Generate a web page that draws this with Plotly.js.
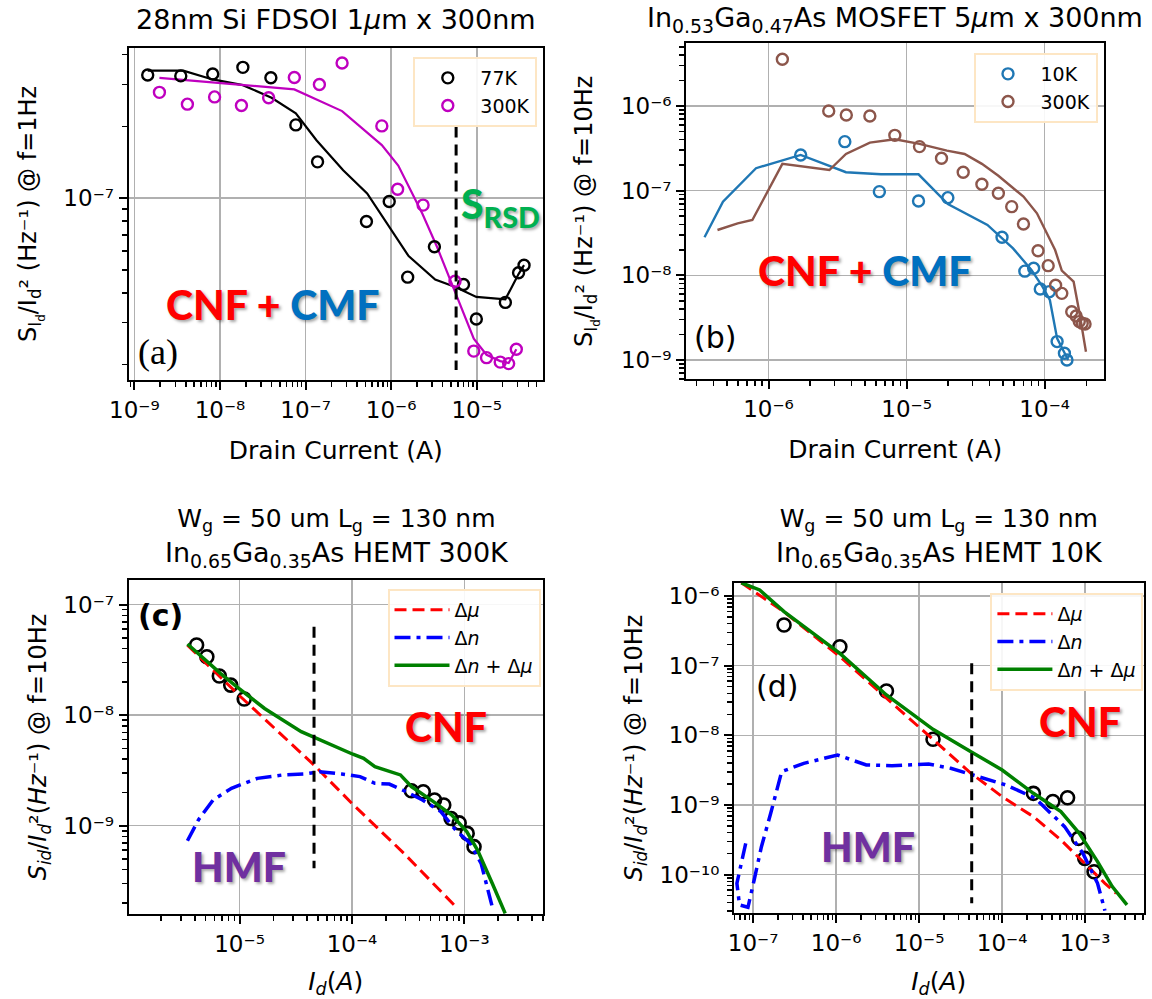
<!DOCTYPE html>
<html><head><meta charset="utf-8">
<script src="https://cdn.plot.ly/plotly-3.0.1.min.js"></script>
<style>html,body{margin:0;padding:0;background:#fff}</style>
</head><body><div id="chart" style="width:1152px;height:999px"></div>
<script>
// ---------------- Panel (a): 28nm Si FDSOI ----------------
const a77PtsI = [1.43e-9, 3.48e-9, 8.22e-9, 1.85e-8, 3.93e-8, 7.69e-8, 1.38e-7, 5.14e-7, 9.49e-7, 1.56e-6, 3.2e-6, 7.0e-6, 9.89e-6, 2.16e-5, 3.08e-5, 3.57e-5];
const a77PtsS = [3.29e-7, 3.26e-7, 3.32e-7, 3.54e-7, 3.2e-7, 2.03e-7, 1.42e-7, 7.98e-8, 9.68e-8, 4.66e-8, 6.25e-8, 4.34e-8, 3.11e-8, 3.65e-8, 4.86e-8, 5.23e-8];
const a77FitI = [1.43e-9, 3.72e-9, 8.22e-9, 1.85e-8, 4.0e-8, 7.69e-8, 1.34e-7, 2.75e-7, 5.24e-7, 9.49e-7, 1.6e-6, 3.27e-6, 5.62e-6, 9.89e-6, 2.16e-5, 3.08e-5, 3.57e-5];
const a77FitS = [3.43e-7, 3.43e-7, 3.15e-7, 2.98e-7, 2.64e-7, 2.27e-7, 1.75e-7, 1.31e-7, 1.046e-7, 7.58e-8, 5.71e-8, 4.55e-8, 4.24e-8, 3.85e-8, 3.76e-8, 4.8e-8, 5.23e-8];
const a300PtsI = [1.96e-9, 4.16e-9, 8.64e-9, 1.78e-8, 3.7e-8, 7.39e-8, 1.45e-7, 2.67e-7, 7.78e-7, 1.19e-6, 2.36e-6, 5.57e-6, 9.23e-6, 1.3e-5, 1.88e-5, 2.36e-5, 2.9e-5];
const a300PtsS = [2.78e-7, 2.48e-7, 2.66e-7, 2.45e-7, 2.64e-7, 3.21e-7, 3.0e-7, 3.69e-7, 2.01e-7, 1.09e-7, 9.35e-8, 4.48e-8, 2.28e-8, 2.14e-8, 2.05e-8, 2.02e-8, 2.32e-8];
const a300FitI = [1.96e-9, 1.0e-8, 7.39e-8, 2.67e-7, 7.78e-7, 1.21e-6, 2.31e-6, 3.43e-6, 5.62e-6, 9.23e-6, 1.3e-5, 1.88e-5, 2.36e-5, 2.9e-5];
const a300FitS = [3.2e-7, 3.05e-7, 2.86e-7, 2.32e-7, 1.67e-7, 1.37e-7, 8.62e-8, 6.25e-8, 4.04e-8, 2.57e-8, 2.2e-8, 2.07e-8, 2.03e-8, 2.32e-8];
const aVlineI = [5.74e-6, 5.74e-6];
const aVlineS = [2.0e-7, 1.9e-8];
const aLegend = ['77K', '300K'];

// ---------------- Panel (b): InGaAs MOSFET ----------------
const b10PtsI = [1.71e-6, 3.57e-6, 6.35e-6, 1.22e-5, 1.99e-5, 4.91e-5, 7.18e-5, 8.32e-5, 9.29e-5, 1.08e-4, 1.23e-4, 1.39e-4, 1.45e-4];
const b10PtsS = [2.64e-7, 3.79e-7, 9.73e-8, 7.55e-8, 8.26e-8, 2.81e-8, 1.12e-8, 1.21e-8, 6.9e-9, 6.41e-9, 1.65e-9, 1.2e-9, 1.0e-9];
const b10FitI = [3.44e-7, 4.68e-7, 8.12e-7, 1.71e-6, 3.64e-6, 6.52e-6, 1.22e-5, 1.99e-5, 3.85e-5, 5.9e-5, 8.02e-5, 9.64e-5, 1.09e-4, 1.23e-4, 1.48e-4];
const b10FitS = [2.81e-8, 7.41e-8, 1.84e-7, 2.64e-7, 1.65e-7, 1.56e-7, 1.56e-7, 6.96e-8, 3.93e-8, 2.08e-8, 1.16e-8, 7.35e-9, 5.12e-9, 1.8e-9, 1.0e-9];
const b300PtsI = [1.26e-6, 2.73e-6, 3.66e-6, 5.42e-6, 8.22e-6, 1.24e-5, 1.79e-5, 2.57e-5, 3.51e-5, 4.62e-5, 5.77e-5, 7.02e-5, 8.95e-5, 1.06e-4, 1.2e-4, 1.33e-4, 1.57e-4, 1.69e-4, 1.78e-4, 1.87e-4, 1.96e-4];
const b300PtsS = [3.56e-6, 8.73e-7, 7.83e-7, 7.62e-7, 4.5e-7, 3.31e-7, 2.41e-7, 1.65e-7, 1.19e-7, 9.3e-8, 6.47e-8, 4.04e-8, 1.95e-8, 1.3e-8, 7.62e-9, 6.12e-9, 3.72e-9, 3.31e-9, 2.84e-9, 2.71e-9, 2.66e-9];
const b300FitI = [4.27e-7, 5.98e-7, 7.64e-7, 1.26e-6, 2.76e-6, 3.64e-6, 5.42e-6, 8.22e-6, 1.24e-5, 1.96e-5, 2.63e-5, 3.51e-5, 4.62e-5, 7.02e-5, 8.79e-5, 1.19e-4, 1.33e-4, 1.62e-4, 1.78e-4, 1.99e-4];
const b300FitS = [3.43e-8, 4.11e-8, 4.5e-8, 2.07e-7, 1.75e-7, 2.71e-7, 3.69e-7, 4.04e-7, 3.56e-7, 2.97e-7, 2.71e-7, 2.07e-7, 1.5e-7, 8.5e-8, 5.4e-8, 1.99e-8, 1.14e-8, 8.41e-9, 3.72e-9, 1.25e-9];
const bLegend = ['10K', '300K'];

// ---------------- Panel (c): HEMT 300K ----------------
const cPtsI = [4.15e-6, 5.12e-6, 6.61e-6, 8.35e-6, 1.1e-5, 3.38e-4, 4.31e-4, 5.43e-4, 6.56e-4, 7.62e-4, 9.0e-4, 1.06e-3, 1.22e-3];
const cPtsS = [4.31e-8, 3.38e-8, 2.26e-8, 1.87e-8, 1.4e-8, 2.07e-9, 2.03e-9, 1.71e-9, 1.54e-9, 1.16e-9, 1.06e-9, 8.52e-10, 6.46e-10];
const cMuI = [3.44e-6, 1.0e-5, 4.6e-5, 1.0e-4, 2.91e-4, 8.67e-4];
const cMuS = [4.3e-8, 1.5e-8, 3.54e-9, 1.59e-9, 5.6e-10, 1.79e-10];
const cNI = [3.44e-6, 4.31e-6, 5.82e-6, 8.48e-6, 1.44e-5, 2.43e-5, 3.82e-5, 5.16e-5, 8.1e-5, 1.18e-4, 1.6e-4, 2.15e-4, 2.91e-4, 4.24e-4, 6.18e-4, 8.36e-4, 1.13e-3, 1.41e-3, 1.77e-3];
const cNS = [7.31e-10, 1.13e-9, 1.71e-9, 2.18e-9, 2.68e-9, 2.88e-9, 2.94e-9, 3.08e-9, 2.94e-9, 2.78e-9, 2.42e-9, 2.38e-9, 2.07e-9, 1.71e-9, 1.34e-9, 9.14e-10, 6.92e-10, 4.56e-10, 1.85e-10];
const cSumI = [3.44e-6, 5.0e-6, 6.76e-6, 9.85e-6, 1.67e-5, 3.54e-5, 4.6e-5, 6.45e-5, 1.02e-4, 1.27e-4, 1.6e-4, 2.7e-4, 3.38e-4, 5.31e-4, 7.74e-4, 1.05e-3, 1.31e-3, 1.77e-3, 2.31e-3];
const cSumS = [4.41e-8, 3.15e-8, 2.39e-8, 1.75e-8, 1.15e-8, 7.1e-9, 6.3e-9, 5.37e-9, 4.43e-9, 4.07e-9, 3.42e-9, 2.88e-9, 2.26e-9, 1.65e-9, 1.25e-9, 8.83e-10, 6.02e-10, 3.01e-10, 1.61e-10];
const cVlineI = [4.6e-5, 4.6e-5];
const cVlineS = [6.32e-8, 4.11e-10];

// ---------------- Panel (d): HEMT 10K ----------------
const dPtsI = [2.36e-7, 1.11e-6, 4.04e-6, 1.47e-5, 2.38e-4, 4.08e-4, 6.14e-4, 8.32e-4, 9.9e-4, 1.28e-3];
const dPtsS = [3.84e-7, 1.87e-7, 4.33e-8, 8.77e-9, 1.47e-9, 1.12e-9, 1.27e-9, 3.32e-10, 1.71e-10, 1.1e-10];
const dMuI = [7.21e-8, 2.36e-7, 1.11e-6, 4.04e-6, 1.47e-5, 4.21e-5, 1.0e-4, 2.38e-4, 5.1e-4, 8.5e-4, 1.73e-3, 2.36e-3];
const dMuS = [1.55e-6, 5.9e-7, 1.35e-7, 3.4e-8, 8.77e-9, 2.85e-9, 1.32e-9, 6.8e-10, 3.15e-10, 1.71e-10, 7.51e-11, 5.4e-11];
const dNI = [8.15e-8, 6.38e-8, 6.86e-8, 8.67e-8, 1.03e-7, 1.26e-7, 1.63e-7, 2.21e-7, 4.08e-7, 1.04e-6, 2.31e-6, 4.71e-6, 1.3e-5, 2.4e-5, 4.43e-5, 1.11e-4, 2.5e-4, 5.65e-4, 9.4e-4, 1.41e-3, 1.73e-3];
const dNS = [2.82e-10, 7.51e-11, 3.67e-11, 3.4e-11, 8.38e-11, 2.52e-10, 7.59e-10, 3.01e-9, 3.96e-9, 5.22e-9, 3.75e-9, 3.67e-9, 3.88e-9, 3.36e-9, 2.7e-9, 1.94e-9, 1.25e-9, 4.89e-10, 2.02e-10, 7.51e-11, 3.04e-11];
const dSumI = [7.21e-8, 1.2e-7, 2.36e-7, 5.0e-7, 1.11e-6, 4.04e-6, 1.47e-5, 4.21e-5, 1.0e-4, 2.38e-4, 5.1e-4, 8.5e-4, 1.41e-3, 2.12e-3, 3.19e-3];
const dSumS = [1.55e-6, 1.22e-6, 5.96e-7, 3.08e-7, 1.5e-7, 3.79e-8, 1.22e-8, 5.83e-9, 3.18e-9, 1.47e-9, 8.02e-10, 3.92e-10, 1.54e-10, 6.73e-11, 3.67e-11];
const dVlineI = [4.3e-5, 4.3e-5];
const dVlineS = [1.08e-7, 3.88e-11];
const hemtLegend = ['Δ<i>μ</i>', 'Δ<i>n</i>', 'Δ<i>n</i> + Δ<i>μ</i>'];

// ---------------- Tick labels ----------------
const aXTicks = [1e-9, 1e-8, 1e-7, 1e-6, 1e-5];
const aXText = ['10⁻⁹', '10⁻⁸', '10⁻⁷', '10⁻⁶', '10⁻⁵'];
const aYTicks = [1e-7];
const aYText = ['10⁻⁷'];
const bXTicks = [1e-6, 1e-5, 1e-4];
const bXText = ['10⁻⁶', '10⁻⁵', '10⁻⁴'];
const bYTicks = [1e-9, 1e-8, 1e-7, 1e-6];
const bYText = ['10⁻⁹', '10⁻⁸', '10⁻⁷', '10⁻⁶'];
const cXTicks = [1e-5, 1e-4, 1e-3];
const cXText = ['10⁻⁵', '10⁻⁴', '10⁻³'];
const cYTicks = [1e-9, 1e-8, 1e-7];
const cYText = ['10⁻⁹', '10⁻⁸', '10⁻⁷'];
const dXTicks = [1e-7, 1e-6, 1e-5, 1e-4, 1e-3];
const dXText = ['10⁻⁷', '10⁻⁶', '10⁻⁵', '10⁻⁴', '10⁻³'];
const dYTicks = [1e-10, 1e-9, 1e-8, 1e-7, 1e-6];
const dYText = ['10⁻¹⁰', '10⁻⁹', '10⁻⁸', '10⁻⁷', '10⁻⁶'];

// ---------------- helpers (styling / layout only) ----------------
const W = 1152, H = 999;
const FONT = 'DejaVu Sans';
const px = v => v / W;
const py = v => 1 - v / H;
function minorTicks(lo, hi) { // 2..9 subdivisions of each decade inside [10^lo, 10^hi]
  const out = [];
  for (let e = Math.floor(lo); e <= Math.ceil(hi); e++) {
    for (let m = 2; m <= 9; m++) {
      const v = m * Math.pow(10, e);
      const l = Math.log10(v);
      if (l > lo && l < hi) out.push(v);
    }
  }
  return out;
}
function axis(domain, range, tickvals, ticktext, anchor, title, tsize, standoff) {
  return {
    type: 'log', domain: domain, range: range, anchor: anchor,
    tickmode: 'array', tickvals: tickvals, ticktext: ticktext,
    ticks: 'outside', ticklen: 8, tickwidth: 2, tickcolor: '#000',
    showline: true, mirror: true, linecolor: '#000', linewidth: 2,
    showgrid: true, gridcolor: '#b0b0b0', gridwidth: 1.6, zeroline: false,
    tickfont: {family: FONT, size: 23, color: '#000'},
    minor: {tickmode: 'array', tickvals: minorTicks(range[0], range[1]), ticks: 'outside', ticklen: 5, tickwidth: 1.5, tickcolor: '#000', showgrid: false},
    title: {text: title, standoff: standoff, font: {family: FONT, size: tsize, color: '#000'}},
    automargin: false, fixedrange: true
  };
}
function pts(x, y, color, xa, ya, name, leg, size, lw) {
  return {x: x, y: y, xaxis: xa, yaxis: ya, mode: 'markers', type: 'scatter', name: name,
    legend: leg, showlegend: !!name, cliponaxis: true,
    marker: {symbol: 'circle-open', size: size || 11, color: color, line: {color: color, width: lw || 2.4}}};
}
function line(x, y, color, xa, ya, width, dash, name, leg) {
  return {x: x, y: y, xaxis: xa, yaxis: ya, mode: 'lines', type: 'scatter', name: name,
    legend: leg, showlegend: !!name,
    line: {color: color, width: width, dash: dash || 'solid'}};
}

const BLUE = '#1f77b4', BROWN = '#8c564b', MAG = '#bf00bf';
const VDASH = '11px,7px';

const traces = [
  // (a)
  line(a77FitI, a77FitS, '#000', 'x', 'y', 2.2, 'solid', null, 'legend'),
  line(a300FitI, a300FitS, MAG, 'x', 'y', 2.2, 'solid', null, 'legend'),
  pts(a77PtsI, a77PtsS, '#000', 'x', 'y', aLegend[0], 'legend'),
  pts(a300PtsI, a300PtsS, MAG, 'x', 'y', aLegend[1], 'legend'),
  line(aVlineI, aVlineS, '#000', 'x', 'y', 3, VDASH, null, 'legend'),
  // (b)
  line(b10FitI, b10FitS, BLUE, 'x2', 'y2', 2.4, 'solid', null, 'legend2'),
  line(b300FitI, b300FitS, BROWN, 'x2', 'y2', 2.4, 'solid', null, 'legend2'),
  pts(b10PtsI, b10PtsS, BLUE, 'x2', 'y2', bLegend[0], 'legend2'),
  pts(b300PtsI, b300PtsS, BROWN, 'x2', 'y2', bLegend[1], 'legend2'),
  // (c)
  pts(cPtsI, cPtsS, '#000', 'x3', 'y3', null, 'legend3', 13, 2.6),
  line(cMuI, cMuS, '#ff0000', 'x3', 'y3', 3, '12px,6px', hemtLegend[0], 'legend3'),
  line(cNI, cNS, '#0000ff', 'x3', 'y3', 3.5, '16px,6px,4px,6px', hemtLegend[1], 'legend3'),
  line(cSumI, cSumS, '#008000', 'x3', 'y3', 3.5, 'solid', hemtLegend[2], 'legend3'),
  line(cVlineI, cVlineS, '#000', 'x3', 'y3', 3, VDASH, null, 'legend3'),
  // (d)
  pts(dPtsI, dPtsS, '#000', 'x4', 'y4', null, 'legend4', 13, 2.6),
  line(dMuI, dMuS, '#ff0000', 'x4', 'y4', 3, '12px,6px', hemtLegend[0], 'legend4'),
  line(dNI, dNS, '#0000ff', 'x4', 'y4', 3.5, '16px,6px,4px,6px', hemtLegend[1], 'legend4'),
  line(dSumI, dSumS, '#008000', 'x4', 'y4', 3.5, 'solid', hemtLegend[2], 'legend4'),
  line(dVlineI, dVlineS, '#000', 'x4', 'y4', 3, VDASH, null, 'legend4')
];

const yTitleA = 'S<sub>I<sub>d</sub></sub>/I<sub>d</sub>² (Hz⁻¹) @ f=1Hz';
const yTitleB = 'S<sub>I<sub>d</sub></sub>/I<sub>d</sub>² (Hz⁻¹) @ f=10Hz';
const yTitleCD = '<i>S</i><sub><i>id</i></sub>/<i>I</i><sub><i>d</i></sub>²(<i>Hz</i>⁻¹) @ f=10Hz';
const xTitleAB = 'Drain Current (A)';
const xTitleCD = '<i>I</i><sub><i>d</i></sub>(<i>A</i>)';

const domA = {x: [px(128.6), px(542.9)], y: [py(380), py(47.7)]};
const domB = {x: [px(686.2), px(1104.2)], y: [py(379.3), py(43.3)]};
const domC = {x: [px(128.6), px(542.9)], y: [py(914), py(580)]};
const domD = {x: [px(734), px(1143.6)], y: [py(913.3), py(582.7)]};

function legendBox(x, y) {
  return {x: px(x), y: py(y), xref: 'paper', yref: 'paper', xanchor: 'left', yanchor: 'top',
    bgcolor: 'rgba(255,255,255,0.9)', bordercolor: '#fde6c4', borderwidth: 2,
    font: {family: FONT, size: 19, color: '#000'}, tracegroupgap: 0, itemwidth: 55};
}
function note(text, x, y, size, color, opts) {
  return Object.assign({text: text, x: px(x), y: py(y), xref: 'paper', yref: 'paper',
    xanchor: 'left', yanchor: 'middle', showarrow: false,
    font: {family: FONT, size: size, color: color || '#000'}}, opts || {});
}
const BIG = {family: 'Lato', size: 41, weight: 900, shadow: '2px 2px 3px rgba(0,0,0,0.35)'};
const bigFont = c => Object.assign({}, BIG, {color: c});
const big = (text, x, y, c) => ({text: text, x: px(x), y: py(y), xref: 'paper', yref: 'paper',
  xanchor: 'left', yanchor: 'middle', showarrow: false, font: bigFont(c)});
const cnfCmf = '<span style="color:#ff0000">CNF +</span> <span style="color:#0070c0">CMF</span>';
const hemtTitle = t => '<span style="font-size:25px">W<sub>g</sub> = 50 um L<sub>g</sub> = 130 nm</span><br>In<sub>0.65</sub>Ga<sub>0.35</sub>As HEMT ' + t;

const layout = {
  width: W, height: H, margin: {l: 0, r: 0, t: 0, b: 0}, autosize: false,
  paper_bgcolor: '#fff', plot_bgcolor: '#fff',
  font: {family: FONT, color: '#000'},
  xaxis: axis(domA.x, [-9.068, -4.227], aXTicks, aXText, 'y', xTitleAB, 25, 20),
  yaxis: axis(domA.y, [-7.7634, -6.3685], aYTicks, aYText, 'x', yTitleA, 24, 20),
  xaxis2: axis(domB.x, [-6.596, -3.569], bXTicks, bXText, 'y2', xTitleAB, 25, 20),
  yaxis2: axis(domB.y, [-9.228, -5.26], bYTicks, bYText, 'x2', yTitleB, 24, 22),
  xaxis3: axis(domC.x, [-5.987, -2.301], cXTicks, cXText, 'y3', xTitleCD, 25, 20),
  yaxis3: axis(domC.y, [-9.799, -6.777], cYTicks, cYText, 'x3', yTitleCD, 24, 10),
  xaxis4: axis(domD.x, [-7.23, -2.296], dXTicks, dXText, 'y4', xTitleCD, 25, 20),
  yaxis4: axis(domD.y, [-10.555, -5.809], dYTicks, dYText, 'x4', yTitleCD, 24, 10),
  showlegend: true,
  legend: legendBox(413.3, 57),
  legend2: legendBox(973.5, 53),
  legend3: legendBox(387.5, 589),
  legend4: legendBox(990.4, 593),
  annotations: [
    note('28nm Si FDSOI 1<i>μ</i>m x 300nm', 335.6, 20, 27, '#000', {xanchor: 'center'}),
    note('In<sub>0.53</sub>Ga<sub>0.47</sub>As MOSFET 5<i>μ</i>m x 300nm', 894.7, 20, 27, '#000', {xanchor: 'center'}),
    note(hemtTitle('300K'), 336.5, 538, 27, '#000', {xanchor: 'center'}),
    note(hemtTitle('10K'), 939.7, 538, 27, '#000', {xanchor: 'center'}),
    // panel (a)
    big(cnfCmf, 164, 304, '#ff0000'),
    big('S<sub>RSD</sub>', 459, 206, '#00b050'),
    note('(a)', 136, 352, 36, '#000', {font: {family: 'Liberation Serif', size: 36, color: '#000'}}),
    // panel (b)
    big(cnfCmf, 756, 270, '#ff0000'),
    note('(b)', 692, 337, 30),
    // panel (c)
    big('CNF', 403, 726, '#ff0000'),
    big('HMF', 190, 866, '#7030a0'),
    note('(c)', 136, 615, 30, '#000', {font: {family: FONT, size: 30, weight: 'bold', color: '#000'}}),
    // panel (d)
    big('CNF', 1037, 721, '#ff0000'),
    big('HMF', 819, 846, '#7030a0'),
    note('(d)', 754, 686, 30)
  ]
};

Plotly.newPlot('chart', traces, layout, {displayModeBar: false, staticPlot: true});
</script>
</body></html>
